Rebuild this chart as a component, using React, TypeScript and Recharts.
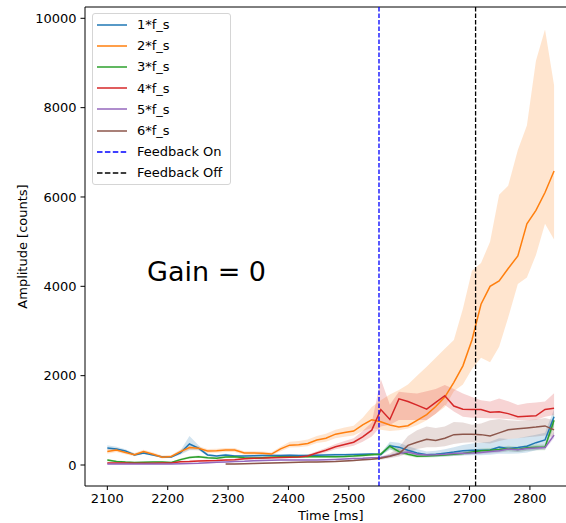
import { ComposedChart, Area, Line, XAxis, YAxis, ReferenceLine } from 'recharts';

// sample times (ms)
const times = [
  2100, 2115, 2130, 2145, 2160, 2176, 2191, 2206, 2221, 2236,
  2251, 2266, 2281, 2296, 2311, 2327, 2342, 2357, 2372, 2387,
  2402, 2417, 2432, 2447, 2462, 2478, 2493, 2508, 2523, 2538,
  2553, 2568, 2583, 2598, 2613, 2629, 2644, 2659, 2674, 2689,
  2704, 2719, 2734, 2749, 2764, 2780, 2795, 2810, 2825, 2840,
];

// 1*f_s
const mean1 = [380, 360, 315, 225, 270, 225, 180, 180, 270, 470, 380, 225, 200, 225, 200, 200, 205, 210, 215, 215, 220, 210, 215, 220, 225, 230, 230, 235, 240, 245, 230, 430, 400, 330, 270, 230, 240, 265, 290, 320, 330, 330, 335, 400, 370, 390, 420, 500, 560, 1080];
const low1 = [330, 320, 285, 200, 240, 200, 160, 160, 230, 330, 330, 200, 180, 200, 180, 180, 185, 190, 195, 195, 200, 190, 195, 200, 205, 210, 210, 215, 220, 225, 210, 340, 300, 240, 200, 180, 180, 190, 200, 210, 220, 220, 230, 250, 250, 260, 280, 330, 380, 900];
const high1 = [440, 410, 350, 255, 300, 250, 200, 205, 320, 650, 440, 255, 225, 250, 225, 225, 230, 235, 240, 240, 245, 235, 240, 245, 250, 255, 255, 260, 265, 270, 260, 520, 500, 420, 360, 300, 320, 350, 400, 450, 480, 500, 520, 600, 580, 600, 640, 680, 720, 1250];

// 2*f_s
const mean2 = [300, 335, 280, 230, 300, 240, 175, 190, 300, 390, 375, 315, 320, 335, 335, 270, 270, 265, 245, 360, 445, 455, 480, 560, 600, 690, 730, 760, 900, 1010, 970, 895, 850, 880, 1000, 1130, 1310, 1520, 1850, 2220, 2800, 3600, 4000, 4120, 4400, 4680, 5400, 5700, 6100, 6580];
const low2 = [250, 290, 240, 195, 260, 205, 145, 160, 260, 340, 330, 270, 275, 290, 290, 230, 230, 225, 210, 310, 390, 400, 420, 490, 520, 600, 630, 660, 760, 830, 790, 760, 780, 820, 890, 1000, 1150, 1300, 1650, 1800, 2150, 2400, 2300, 2650, 3300, 4050, 4200, 4700, 5400, 5050];
const high2 = [350, 380, 320, 270, 340, 280, 210, 225, 345, 440, 420, 360, 365, 380, 380, 310, 310, 305, 285, 410, 520, 540, 570, 650, 700, 790, 840, 880, 1060, 1300, 1450, 1580, 1680, 1800, 2000, 2200, 2400, 2600, 2800, 3500, 4350, 4520, 5000, 6050, 6250, 7050, 7600, 9050, 9750, 8500];

// 3*f_s
const mean3 = [110, 80, 65, 55, 60, 70, 65, 55, 120, 170, 185, 165, 150, 180, 185, 160, 155, 165, 175, 185, 185, 185, 185, 185, 185, 185, 190, 200, 215, 230, 245, 420, 300, 240, 195, 200, 210, 225, 240, 260, 290, 320, 330, 345, 370, 350, 385, 395, 395, 1000];
const low3 = [85, 60, 45, 35, 40, 50, 45, 35, 95, 145, 160, 140, 125, 155, 160, 135, 130, 140, 150, 160, 160, 160, 160, 160, 160, 160, 165, 175, 190, 200, 215, 360, 250, 200, 165, 170, 175, 190, 200, 220, 245, 270, 280, 290, 310, 290, 320, 330, 330, 850];
const high3 = [135, 100, 85, 75, 80, 90, 85, 75, 145, 195, 210, 190, 175, 205, 210, 185, 180, 190, 200, 210, 210, 210, 210, 210, 210, 210, 215, 225, 240, 260, 280, 480, 350, 280, 230, 235, 245, 260, 280, 300, 340, 370, 380, 400, 430, 410, 450, 460, 460, 1150];

// 4*f_s
const mean4 = [45, 45, 45, 40, 40, 40, 45, 45, 75, 80, 90, 95, 100, 110, 120, 140, 150, 155, 165, 170, 175, 180, 200, 270, 330, 410, 460, 510, 630, 780, 1240, 1020, 1480, 1420, 1340, 1250, 1400, 1550, 1320, 1250, 1245, 1240, 1180, 1190, 1150, 1080, 1090, 1100, 1245, 1270];
const low4 = [25, 25, 25, 20, 20, 20, 25, 25, 55, 60, 70, 75, 80, 90, 100, 115, 125, 130, 140, 145, 150, 155, 170, 230, 280, 350, 390, 430, 520, 640, 860, 900, 1010, 1010, 1010, 1010, 1150, 1345, 1200, 1080, 1060, 1050, 1045, 1040, 1030, 1010, 1000, 1010, 1080, 1120];
const high4 = [65, 65, 65, 60, 60, 60, 65, 65, 95, 100, 110, 115, 120, 130, 140, 165, 175, 180, 190, 195, 200, 205, 235, 310, 380, 470, 540, 600, 760, 950, 1920, 1350, 1640, 1620, 1600, 1650, 1700, 1790, 1700, 1600, 1520, 1450, 1420, 1490, 1430, 1345, 1380, 1400, 1420, 1605];

// 5*f_s
const mean5 = [20, 20, 20, 20, 20, 20, 20, 25, 30, 35, 40, 50, 60, 70, 80, 85, 95, 100, 105, 110, 110, 110, 110, 110, 115, 125, 135, 145, 150, 160, 170, 200, 260, 290, 240, 225, 230, 240, 255, 265, 270, 280, 300, 320, 360, 340, 370, 380, 390, 670];
const low5 = [5, 5, 5, 5, 5, 5, 5, 10, 15, 20, 25, 35, 45, 55, 65, 70, 80, 85, 90, 95, 95, 95, 95, 95, 100, 110, 120, 130, 135, 145, 150, 170, 220, 250, 210, 195, 200, 205, 215, 225, 230, 240, 255, 275, 310, 290, 320, 330, 340, 600];
const high5 = [35, 35, 35, 35, 35, 35, 35, 40, 45, 50, 55, 65, 75, 85, 95, 100, 110, 115, 120, 125, 125, 125, 125, 125, 130, 140, 150, 160, 165, 175, 190, 235, 300, 330, 275, 260, 265, 280, 300, 310, 315, 325, 350, 370, 410, 390, 420, 430, 440, 750];

// 6*f_s (starts later)
const mean6 = [null, null, null, null, null, null, null, null, null, null, null, null, null, 20, 25, 30, 35, 40, 45, 50, 55, 60, 65, 70, 75, 80, 90, 100, 115, 130, 150, 195, 250, 440, 510, 575, 550, 600, 680, 690, 690, 680, 650, 720, 790, 810, 830, 850, 875, 785];
const low6 = [null, null, null, null, null, null, null, null, null, null, null, null, null, 5, 10, 15, 20, 25, 30, 35, 40, 45, 50, 55, 60, 65, 75, 85, 95, 110, 120, 150, 190, 260, 360, 400, 400, 420, 470, 500, 510, 500, 480, 540, 580, 600, 620, 640, 660, 620];
const high6 = [null, null, null, null, null, null, null, null, null, null, null, null, null, 35, 40, 45, 50, 55, 60, 65, 70, 75, 80, 85, 90, 95, 105, 115, 135, 150, 190, 260, 400, 650, 780, 860, 830, 860, 960, 950, 900, 930, 1000, 1030, 1000, 990, 1000, 1020, 1050, 1000];

const xTicks = [2100, 2200, 2300, 2400, 2500, 2600, 2700, 2800];
const yTicks = [0, 2000, 4000, 6000, 8000, 10000];
const feedbackOn = 2550;
const feedbackOff = 2710;

const series = [
  { key: 'h1', name: '1*f_s', color: '#1f77b4', mean: mean1, low: low1, high: high1 },
  { key: 'h2', name: '2*f_s', color: '#ff7f0e', mean: mean2, low: low2, high: high2 },
  { key: 'h3', name: '3*f_s', color: '#2ca02c', mean: mean3, low: low3, high: high3 },
  { key: 'h4', name: '4*f_s', color: '#d62728', mean: mean4, low: low4, high: high4 },
  { key: 'h5', name: '5*f_s', color: '#9467bd', mean: mean5, low: low5, high: high5 },
  { key: 'h6', name: '6*f_s', color: '#8c564b', mean: mean6, low: low6, high: high6 },
];

const data = times.map((t, i) => {
  const row: Record<string, unknown> = { t };
  series.forEach((s) => {
    row[s.key] = s.mean[i];
    row[s.key + 'Band'] = s.low[i] == null ? null : [s.low[i], s.high[i]];
  });
  return row;
});

const FONT = '"DejaVu Sans", sans-serif';
const X_MIN = 2063;
const X_MAX = 2877;
const Y_MIN = -470;
const Y_MAX = 10253;

const legendItems = [
  ...series.map((s) => ({ name: s.name, color: s.color, dash: undefined as string | undefined })),
  { name: 'Feedback On', color: '#0000ff', dash: '5.5 2.4' },
  { name: 'Feedback Off', color: '#000000', dash: '5.5 2.4' },
];

function LegendBox() {
  return (
    <div
      style={{
        position: 'absolute',
        left: 92,
        top: 13,
        border: '1px solid #d5d5d5',
        borderRadius: 3,
        background: 'rgba(255,255,255,0.85)',
        padding: '0 8px 0 4px',
        fontFamily: FONT,
        fontSize: 13,
        color: '#000',
      }}
    >
      {legendItems.map((it) => (
        <div key={it.name} style={{ display: 'flex', alignItems: 'center', height: 21.2 }}>
          <svg width={30} height={4} style={{ marginRight: 10 }}>
            <line x1={0} y1={2} x2={30} y2={2} stroke={it.color} strokeWidth={1.5} strokeDasharray={it.dash} />
          </svg>
          <span>{it.name}</span>
        </div>
      ))}
    </div>
  );
}

function YLabel(props: any) {
  const vb = props.viewBox || {};
  const cy = (vb.y ?? 7) + (vb.height ?? 479) / 2;
  return (
    <text
      x={22}
      y={cy}
      transform={`rotate(-90 22 ${cy})`}
      textAnchor="middle"
      dominantBaseline="central"
      fontFamily={FONT}
      fontSize={13}
      fill="#000"
    >
      Amplitude [counts]
    </text>
  );
}

export default function App() {
  const tickStyle = { fontSize: 13, fill: '#000', fontFamily: FONT };
  return (
    <div style={{ position: 'absolute', left: 0, top: 0, width: 566, height: 523, overflow: 'hidden', background: '#fff' }}>
      <ComposedChart width={600} height={523} data={data} margin={{ top: 7, right: 23.6, bottom: 0, left: 0 }}>
        <XAxis
          dataKey="t"
          type="number"
          domain={[X_MIN, X_MAX]}
          allowDataOverflow
          ticks={xTicks}
          height={37}
          tick={tickStyle}
          tickSize={4}
          tickMargin={4}
          axisLine={{ stroke: '#000' }}
          tickLine={{ stroke: '#000' }}
          label={{ value: 'Time [ms]', position: 'insideBottom', offset: 3, style: { fontSize: 13, fill: '#000', fontFamily: FONT } }}
        />
        <YAxis
          type="number"
          domain={[Y_MIN, Y_MAX]}
          allowDataOverflow
          ticks={yTicks}
          width={85}
          tick={tickStyle}
          tickSize={4.5}
          tickMargin={4}
          axisLine={{ stroke: '#000' }}
          tickLine={{ stroke: '#000' }}
          label={<YLabel />}
        />
        <ReferenceLine y={Y_MAX} stroke="#000" strokeWidth={1} />
        {series.map((s) => (
          <Area
            key={s.key + 'Band'}
            dataKey={s.key + 'Band'}
            type="linear"
            stroke="none"
            fill={s.color}
            fillOpacity={0.2}
            isAnimationActive={false}
            activeDot={false}
          />
        ))}
        {series.map((s) => (
          <Line
            key={s.key}
            dataKey={s.key}
            name={s.name}
            type="linear"
            stroke={s.color}
            strokeWidth={1.5}
            dot={false}
            activeDot={false}
            isAnimationActive={false}
          />
        ))}
        <ReferenceLine x={feedbackOn} stroke="#0000ff" strokeWidth={1.3} strokeDasharray="4.5 2" />
        <ReferenceLine x={feedbackOff} stroke="#000" strokeWidth={1.3} strokeDasharray="4.5 2" />
      </ComposedChart>
      <LegendBox />
      <svg width={566} height={523} style={{ position: 'absolute', left: 0, top: 0, pointerEvents: 'none' }}>
        <text x={147} y={281} fontFamily={FONT} fontSize={27} fill="#000">
          Gain = 0
        </text>
      </svg>
    </div>
  );
}
